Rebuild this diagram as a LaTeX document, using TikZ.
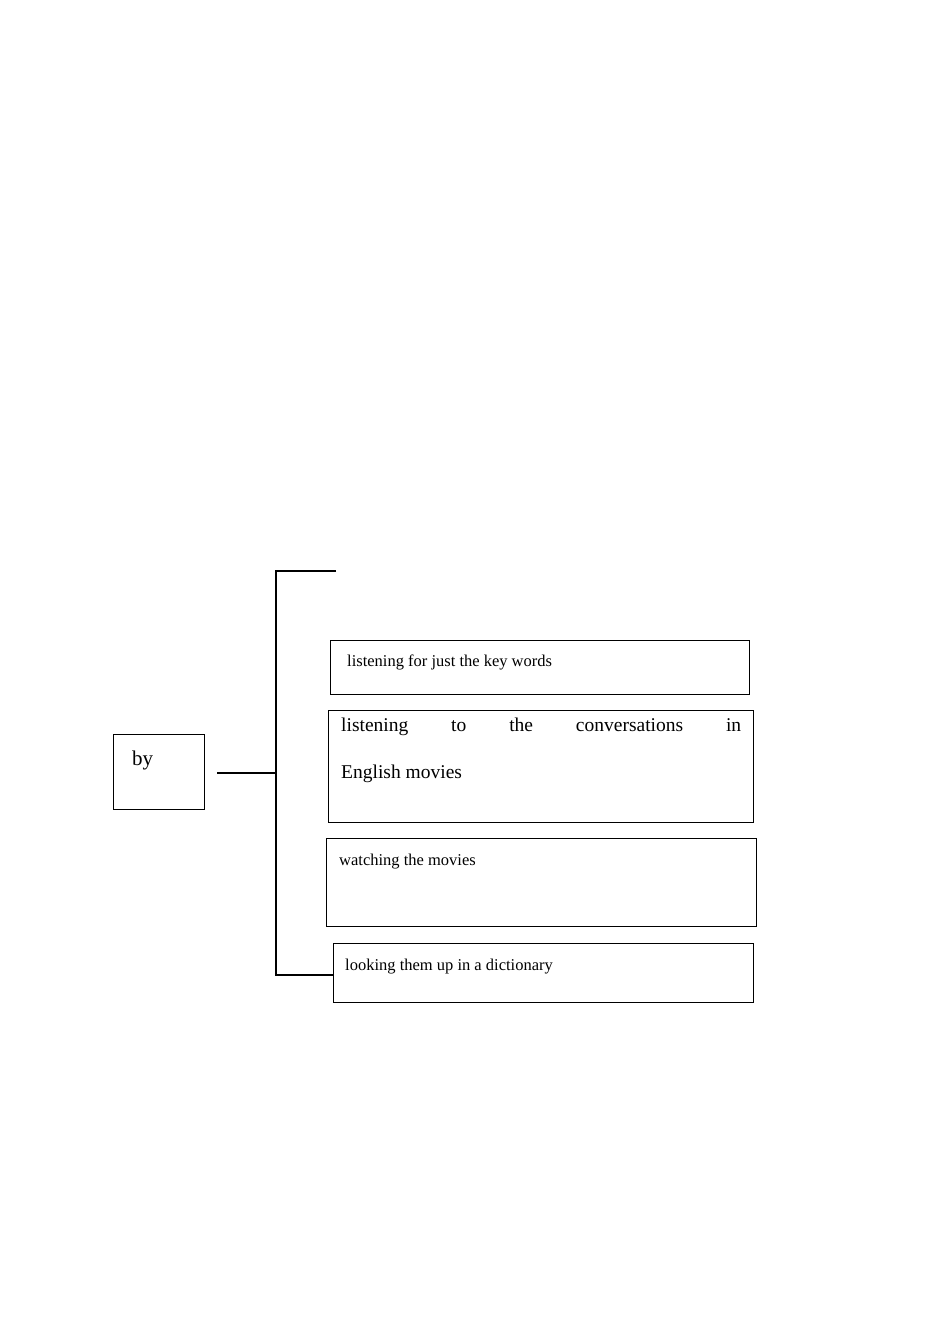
\documentclass[tikz,border=0pt]{standalone}
\usepackage{fontspec}
\setmainfont{Liberation Serif}
\usetikzlibrary{positioning}
\tikzset{
  itembox/.style={draw, line width=0.8pt, inner sep=0pt},
  itemtext/.style={anchor=base west, inner sep=0pt, font=\fontsize{16.5}{20}\selectfont},
  brace/.style={line width=2.6pt}
}
\begin{document}
\begin{tikzpicture}[x=1pt,y=-1pt]
\useasboundingbox (0,0) rectangle (950,1344);
% boxes
\draw[itembox] (113,734) rectangle (204,809);
\node[anchor=base west, inner sep=0pt, font=\fontsize{21}{24}\selectfont] (by) at (132,765) {by};
\draw[itembox] (330,640) rectangle (749,694);
\node[itemtext] (key) at (347,666) {listening for just the key words};
\draw[itembox] (328,710) rectangle (753,822);
\node[anchor=north west, inner sep=0pt, text width=400pt, align=justify,
  font=\fontsize{19.5}{47}\selectfont] (conv) at (341,718)
  {listening to the conversations in\linebreak English movies};
\draw[itembox] (326,838) rectangle (756,926);
\node[itemtext] (movies) at (339,865) {watching the movies};
\draw[itembox] (333,943) rectangle (753,1002);
\node[itemtext] (dict) at (345,970) {looking them up in a dictionary};
% bracket
\coordinate (left) at (217,773);
\coordinate (mid) at (276,773);
\coordinate (top) at (336,571);
\coordinate (bot) at (333,975);
\draw[brace] (left) -- (mid);
\draw[brace] (top) -| (mid) |- (bot);
\end{tikzpicture}
\end{document}
